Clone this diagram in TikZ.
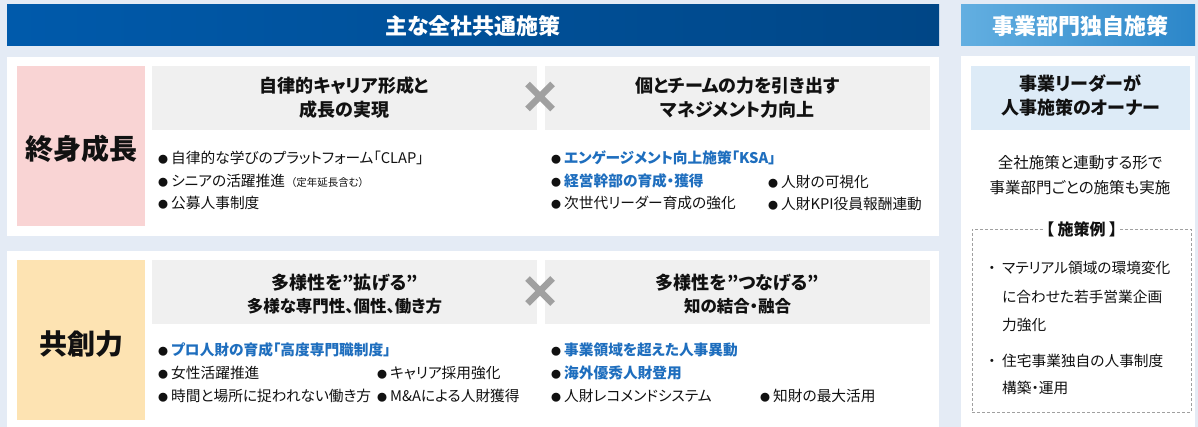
\documentclass[tikz,border=0pt]{standalone}
\usepackage{fontspec}
\setmainfont{Noto Sans CJK JP}[RawFeature=+palt]
\definecolor{bg}{HTML}{E4EBF5}
\definecolor{hdrA}{HTML}{005AAB}
\definecolor{hdrB}{HTML}{004686}
\definecolor{hdrC}{HTML}{63AFE1}
\definecolor{hdrD}{HTML}{2B86C9}
\definecolor{pinkc}{HTML}{F9D4D4}
\definecolor{yelc}{HTML}{FDE3B2}
\definecolor{grayc}{HTML}{F0F0F0}
\definecolor{lblue}{HTML}{DDEBF7}
\definecolor{bluet}{HTML}{1E6EBE}
\definecolor{txt}{HTML}{111111}
\definecolor{xgray}{HTML}{A0A0A0}
\definecolor{dashc}{HTML}{A0A0A0}
\newcommand\fsz[2]{\fontsize{#1pt}{#2pt}\selectfont}
\newcommand\bul{{\color{txt}\fsz{10}{10}●}\hspace{3pt}}
\newcommand\dotb{\makebox[14pt][l]{・}}
\tikzset{
  shape box/.style={inner sep=0pt, outer sep=0pt, draw=none},
  panel/.style={shape box, fill=white},
  bartext/.style={inner sep=0pt, text=white, font=\fsz{22}{26}\bfseries},
  cattext/.style={inner sep=0pt, text=txt, font=\fsz{28}{32}\bfseries},
  headtext/.style={inner sep=0pt, text=txt, align=center, font=\fsz{18}{24}\bfseries},
  subhead/.style={inner sep=0pt, text=txt, font=\fsz{16.5}{20}\bfseries},
  item/.style={anchor=west, inner sep=0pt, text=txt, font=\fsz{14.7}{17}},
  hot/.style={item, text=bluet, font=\fsz{14.7}{17}\bfseries},
  cross/.style={draw=xgray, line width=6.5pt},
}
\newcommand\bx[6]{\node[#6, minimum width={#4-#2}, minimum height={#5-#3}] (#1) at ({(#2+#4)/2},{(#3+#5)/2}) {};}
\begin{document}
\begin{tikzpicture}[x=1pt,y=-1pt]
\useasboundingbox (0,0) rectangle (1198,427);
\fill[bg] (0,0) rectangle (1198,427);
% header bars
\bx{hdrL}{7}{5}{939}{46}{shape box, left color=hdrA, right color=hdrB}
\bx{hdrR}{961}{5}{1195}{46}{shape box, left color=hdrC, right color=hdrD}
\node[bartext] (hdrLt) at (473,26) {主な全社共通施策};
\node[bartext] (hdrRt) at (1080,26) {事業部門独自施策};
% panels
\bx{pU}{7}{57}{939}{236}{panel}
\bx{pL}{7}{251}{939}{427}{panel}
\bx{pR}{961}{56}{1195}{427}{panel}
% category boxes
\bx{catU}{17}{66}{145}{226}{shape box, fill=pinkc}
\bx{catL}{17}{260}{145}{420}{shape box, fill=yelc}
\node[cattext] (catUt) at (81,149) {終身成長};
\node[cattext] (catLt) at (81,344) {共創力};
% gray heading boxes
\bx{g1}{152}{66}{537}{130}{shape box, fill=grayc}
\bx{g2}{545}{66}{930}{130}{shape box, fill=grayc}
\bx{g3}{152}{260}{537}{324}{shape box, fill=grayc}
\bx{g4}{545}{260}{930}{324}{shape box, fill=grayc}
\node[headtext] (g1t) at (344.5,98) {自律的キャリア形成と\\成長の実現};
\node[headtext] (g2t) at (737.5,98) {個とチームの力を引き出す\\マネジメント力向上};
\node[headtext] (g3t) at (344.5,283) {多様性を”拡げる”};
\node[subhead] (g3s) at (344.5,306) {多様な専門性、個性、働き方};
\node[headtext] (g4t) at (737.5,283) {多様性を”つなげる”};
\node[subhead] (g4s) at (737.5,306) {知の結合・融合};
% crosses
\draw[cross] (527.5,84) -- (552.5,109) (527.5,109) -- (552.5,84);
\draw[cross] (527.5,278.5) -- (552.5,303.5) (527.5,303.5) -- (552.5,278.5);
% upper items
\node[item] (a1) at (158,158) {\bul 自律的な学びのプラットフォーム「CLAP」};
\node[item] (a2) at (158,181) {\bul シニアの活躍推進\hspace{6pt}{\fsz{10.5}{12}（定年延長含む）}};
\node[item] (a3) at (158,203) {\bul 公募人事制度};
\node[hot] (b1) at (551,158) {\bul エンゲージメント向上施策「KSA」};
\node[hot] (b2) at (551,181) {\bul 経営幹部の育成・獲得};
\node[item] (b3) at (551,203) {\bul 次世代リーダー育成の強化};
\node[item] (b4) at (768,182) {\bul 人財の可視化};
\node[item] (b5) at (768,204) {\bul 人財KPI役員報酬連動};
% lower items
\node[hot] (c1) at (158,350) {\bul プロ人財の育成「高度専門職制度」};
\node[item] (c2) at (158,373) {\bul 女性活躍推進};
\node[item] (c3) at (158,396) {\bul 時間と場所に捉われない働き方};
\node[item] (c4) at (377,373) {\bul キャリア採用強化};
\node[item] (c5) at (377,396) {\bul M\&Aによる人財獲得};
\node[hot] (d1) at (551,350) {\bul 事業領域を超えた人事異動};
\node[hot] (d2) at (551,373) {\bul 海外優秀人財登用};
\node[item] (d3) at (551,396) {\bul 人財レコメンドシステム};
\node[item] (d4) at (760,396) {\bul 知財の最大活用};
% right column
\bx{rb}{971}{66}{1190}{130}{shape box, fill=lblue}
\node[headtext, font=\fsz{18}{24}\bfseries] (rbt) at (1080.5,95) {事業リーダーが\\人事施策のオーナー};
\node[inner sep=0pt, text=txt, align=center, font=\fsz{15.5}{25}] (rtx) at (1080,175.5) {全社施策と連動する形で\\事業部門ごとの施策も実施};
\bx{ex}{972}{229}{1191}{412}{shape box, draw=dashc, dash pattern=on 3pt off 2pt, line width=0.9pt}
\node[fill=white, inner xsep=3pt, inner ysep=1pt, text=txt, font=\fsz{16}{18}\bfseries] (ext) at (ex.north) {【 施策例 】};
\node[item] (e1) at (988,268) {\dotb マテリアル領域の環境変化};
\node[item] (e1b) at (1002,297) {に合わせた若手営業企画};
\node[item] (e1c) at (1002,325) {力強化};
\node[item] (e2) at (988,361) {\dotb 住宅事業独自の人事制度};
\node[item] (e2b) at (1002,388) {構築・運用};
\end{tikzpicture}
\end{document}
